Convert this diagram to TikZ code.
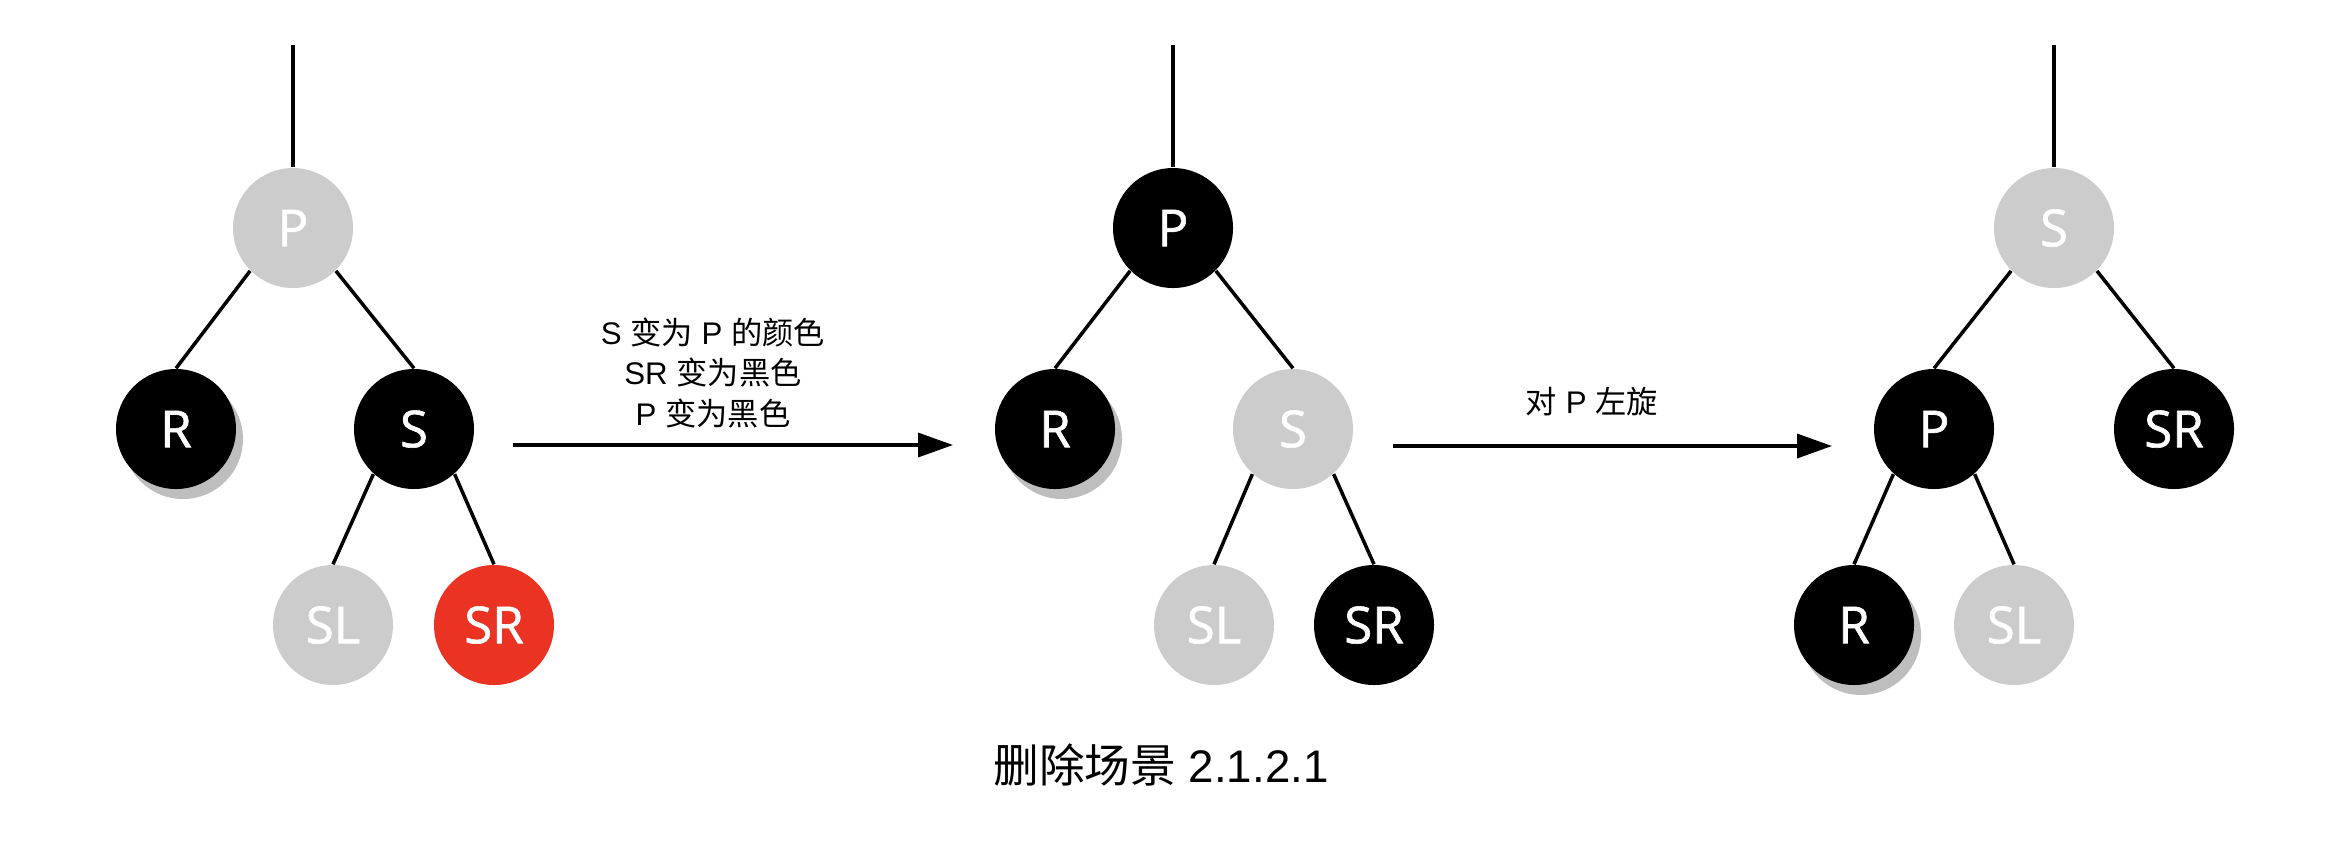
\documentclass[tikz,border=0pt]{standalone}
\usepackage{fontspec}
\setmainfont{Liberation Sans}
\newfontfamily\cjk{Noto Sans CJK SC}
\newfontfamily\nodefont{Open Sans}[FakeBold=1.2]
\usetikzlibrary{arrows.meta,shadows}
\definecolor{lgray}{RGB}{204,204,204}
\definecolor{rbred}{RGB}{234,51,35}
\definecolor{shgray}{RGB}{190,190,190}
\begin{document}
\begin{tikzpicture}[x=0.1mm,y=-0.1mm,
  rbnode/.style={circle,minimum size=12mm,inner sep=0pt,text=white,font={\nodefont\fontsize{14.5}{16}\selectfont}},
  blk/.style={rbnode,fill=black},
  gry/.style={rbnode,fill=lgray},
  rednode/.style={rbnode,fill=rbred},
  shd/.style={drop shadow={shadow xshift=0.7mm,shadow yshift=-1mm,fill=shgray,opacity=1}},
  link/.style={line width=0.35mm},
  arr/.style={line width=0.35mm,-{Triangle[length=3.5mm,width=2.4mm]}},
  lbl/.style={font={\fontsize{8.9}{11.4}\selectfont},align=center,inner sep=0pt},
  captxt/.style={font={\fontsize{13}{15}\selectfont},inner sep=0pt}
]
\path[use as bounding box] (0,0) rectangle (2334,844);

% tree 1
\node[gry] (p1) at (293,228) {P};
\node[blk,shd] (r1) at (176,429) {R};
\node[blk] (s1) at (414,429) {S};
\node[gry] (sl1) at (333,625) {SL};
\node[rednode] (sr1) at (494,625) {SR};
\coordinate (t1) at (293,45);
\draw[link] (t1) -- (p1.north);
\draw[link] (p1.225) -- (r1.north);
\draw[link] (p1.-45) -- (s1.north);
\draw[link] (s1.228) -- (sl1.north);
\draw[link] (s1.-48) -- (sr1.north);

% tree 2
\node[blk] (p2) at (1173,228) {P};
\node[blk,shd] (r2) at (1055,429) {R};
\node[gry] (s2) at (1293,429) {S};
\node[gry] (sl2) at (1214,625) {SL};
\node[blk] (sr2) at (1374,625) {SR};
\coordinate (t2) at (1173,45);
\draw[link] (t2) -- (p2.north);
\draw[link] (p2.225) -- (r2.north);
\draw[link] (p2.-45) -- (s2.north);
\draw[link] (s2.228) -- (sl2.north);
\draw[link] (s2.-48) -- (sr2.north);

% tree 3
\node[gry] (s3) at (2054,228) {S};
\node[blk] (p3) at (1934,429) {P};
\node[blk] (sr3) at (2174,429) {SR};
\node[blk,shd] (r3) at (1854,625) {R};
\node[gry] (sl3) at (2014,625) {SL};
\coordinate (t3) at (2054,45);
\draw[link] (t3) -- (s3.north);
\draw[link] (s3.225) -- (p3.north);
\draw[link] (s3.-45) -- (sr3.north);
\draw[link] (p3.228) -- (r3.north);
\draw[link] (p3.-48) -- (sl3.north);

% arrows
\coordinate (a1) at (513,445);
\coordinate (b1) at (953,445);
\coordinate (a2) at (1393,446);
\coordinate (b2) at (1832,446);
\draw[arr] (a1) -- (b1);
\draw[arr] (a2) -- (b2);

% labels
\node[lbl] (l1) at (713,373) {S {\cjk 变为} P {\cjk 的颜色}\\SR {\cjk 变为黑色}\\P {\cjk 变为黑色}};
\node[lbl] (l2) at (1592,402) {{\cjk 对} P {\cjk 左旋}};
\node[captxt] (c) at (1161,765) {{\cjk 删除场景} 2.1.2.1};
\end{tikzpicture}
\end{document}
